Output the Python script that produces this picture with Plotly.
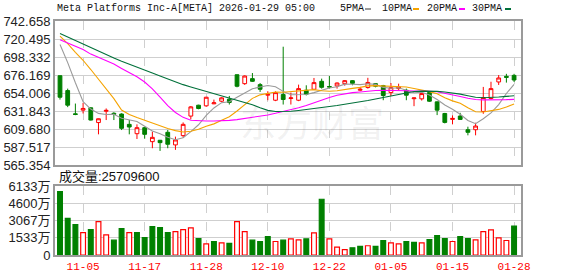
import plotly.graph_objects as go

# ---------------- data ----------------
dates = ["10-31", "11-03", "11-04", "11-05", "11-06", "11-07", "11-10", "11-11", "11-12", "11-13",
         "11-14", "11-17", "11-18", "11-19", "11-20", "11-21", "11-24", "11-25", "11-26", "11-28",
         "12-01", "12-02", "12-03", "12-04", "12-05", "12-08", "12-09", "12-10", "12-11", "12-12",
         "12-15", "12-16", "12-17", "12-18", "12-19", "12-22", "12-23", "12-24", "12-26", "12-29",
         "12-30", "12-31", "01-02", "01-05", "01-06", "01-07", "01-08", "01-09", "01-12", "01-13",
         "01-14", "01-15", "01-16", "01-20", "01-21", "01-22", "01-23", "01-26", "01-27", "01-28"]

open_ = [675.3, 657.0, 628.4, 632.9, 635.8, 617.6, 631.5, 629.0, 628.1, 615.4,
         603.9, 611.3, 594.1, 595.8, 605.6, 590.1, 601.5, 625.6, 639.0, 638.2,
         640.7, 643.9, 646.4, 676.5, 665.5, 671.7, 664.3, 651.3, 645.1, 652.1,
         647.2, 645.1, 657.4, 658.6, 668.4, 662.0, 662.7, 665.5, 669.2, 657.4,
         660.7, 665.5, 663.1, 654.5, 659.4, 657.4, 647.0, 646.8, 654.5, 643.1,
         628.8, 621.5, 625.6, 608.8, 608.8, 631.3, 647.2, 667.6, 674.5, 675.7]
high = [675.5, 659.4, 641.0, 641.9, 636.2, 622.6, 635.0, 630.4, 629.0, 620.7,
        615.4, 612.5, 606.4, 596.2, 608.5, 600.3, 617.8, 638.0, 639.5, 649.2,
        645.9, 648.8, 650.4, 676.7, 675.7, 678.6, 666.3, 656.2, 656.0, 711.0,
        654.5, 664.3, 663.5, 672.5, 671.7, 674.9, 667.0, 670.0, 670.0, 661.5,
        672.7, 666.2, 664.0, 666.3, 665.5, 659.4, 648.3, 654.5, 655.0, 643.5,
        629.5, 626.4, 629.6, 612.5, 617.4, 661.5, 667.9, 676.1, 677.6, 677.6]
low = [645.9, 636.6, 626.7, 628.8, 620.2, 603.1, 620.7, 620.7, 608.4, 603.1,
       597.4, 597.7, 586.0, 582.7, 586.0, 584.0, 599.0, 621.5, 634.0, 637.0,
       640.2, 642.7, 639.8, 661.0, 664.0, 667.6, 655.3, 645.1, 644.0, 639.8,
       639.8, 644.0, 651.0, 658.0, 659.4, 659.4, 659.4, 663.0, 663.5, 656.2,
       659.4, 661.0, 645.1, 650.4, 657.4, 645.1, 637.8, 644.7, 643.0, 626.8,
       616.6, 615.4, 621.0, 601.9, 601.9, 628.4, 646.0, 663.9, 666.8, 667.6]
close = [648.8, 639.0, 627.6, 635.0, 620.7, 622.3, 632.6, 627.8, 610.5, 612.1,
         611.3, 603.1, 599.4, 592.9, 590.9, 596.2, 615.4, 636.9, 634.9, 648.8,
         641.9, 648.0, 642.3, 662.3, 674.9, 668.4, 658.6, 652.5, 654.5, 646.0,
         648.0, 659.4, 652.5, 666.8, 661.0, 661.4, 666.3, 669.2, 665.9, 658.6,
         667.0, 662.3, 650.9, 660.6, 661.5, 651.3, 647.9, 653.3, 643.9, 632.9,
         617.8, 622.7, 621.5, 605.6, 613.3, 648.4, 659.4, 672.5, 673.3, 670.0]
prev_close_first = 666.5

# volume in 万 shares
volume = [5629, 3254, 2697, 1994, 2258, 2961, 1789, 1319, 2346, 1994,
          1994, 1554, 2522, 2434, 1994, 2082, 2258, 2404, 1466, 997,
          1202, 1085, 1026, 2961, 2082, 1319, 1202, 1642, 1202, 1319,
          1437, 1349, 1437, 1964, 4955, 1437, 704, 469, 645, 762,
          821, 762, 1290, 1085, 997, 1202, 1114, 1085, 1378, 1730,
          1466, 1202, 1642, 1466, 1349, 2082, 2228, 1525, 1290, 2571]

ma5 = [713.7, 691.4, 666.6, 643.4, 634.2, 628.9, 627.6, 627.7, 622.8, 621.1,
       618.9, 613.0, 607.3, 603.8, 599.5, 596.5, 599.0, 606.5, 614.9, 626.4,
       635.6, 642.1, 643.2, 648.7, 653.9, 659.2, 661.3, 663.3, 661.8, 656.0,
       651.9, 652.1, 652.1, 654.5, 657.5, 660.2, 661.6, 664.9, 664.8, 664.3,
       665.4, 664.6, 660.9, 659.9, 660.5, 657.3, 654.4, 654.9, 651.6, 645.9,
       639.2, 634.1, 627.8, 620.1, 616.2, 622.3, 629.6, 639.8, 653.4, 664.7]
ma10 = [724.0, 714.7, 704.1, 694.3, 682.9, 671.3, 659.5, 647.1, 633.1, 627.6,
        623.9, 620.3, 617.5, 613.3, 610.3, 607.7, 606.0, 606.9, 609.3, 613.0,
        616.0, 620.5, 624.8, 631.8, 640.2, 647.4, 651.7, 653.3, 655.2, 654.9,
        655.6, 656.7, 657.7, 658.2, 656.8, 656.1, 656.8, 658.5, 659.7, 660.9,
        662.8, 663.1, 662.9, 662.3, 662.4, 661.4, 659.5, 657.9, 655.7, 653.2,
        648.2, 644.3, 641.3, 635.8, 631.0, 630.7, 631.9, 633.8, 636.7, 640.5]
ma20 = [719.6, 715.6, 711.7, 707.6, 701.9, 697.8, 693.6, 689.6, 684.2, 679.2,
        673.9, 667.5, 659.0, 649.0, 638.5, 630.0, 624.0, 620.5, 619.8, 619.6,
        619.6, 619.8, 620.3, 621.2, 622.5, 624.0, 625.5, 627.0, 629.0, 631.0,
        633.0, 635.8, 638.6, 642.0, 645.3, 648.5, 651.2, 653.0, 654.5, 655.3,
        656.4, 657.0, 657.4, 657.5, 657.2, 656.8, 656.5, 656.5, 656.2, 655.5,
        653.8, 651.8, 649.8, 647.5, 646.0, 645.6, 645.4, 645.5, 645.8, 646.2]
ma30 = [727.4, 723.0, 718.5, 714.0, 709.5, 705.2, 701.0, 697.0, 693.0, 689.2,
        685.6, 682.0, 678.5, 675.0, 671.2, 667.6, 664.3, 661.4, 658.7, 656.3,
        653.7, 651.0, 648.0, 645.5, 642.8, 639.5, 635.8, 632.6, 631.3, 631.0,
        631.5, 632.5, 633.5, 634.7, 636.0, 637.3, 638.6, 640.0, 641.6, 643.1,
        644.8, 646.7, 648.5, 650.6, 652.8, 654.7, 655.8, 656.3, 656.4, 656.0,
        655.3, 654.2, 652.6, 650.6, 648.8, 648.2, 648.3, 649.0, 649.8, 650.6]

price_ticks = [565.354, 587.517, 609.680, 631.843, 654.006, 676.169, 698.332, 720.495, 742.658]
price_tick_labels = ["565.354", "587.517", "609.680", "631.843", "654.006",
                     "676.169", "698.332", "720.495", "742.658"]
vol_ticks = [0, 1533, 3067, 4600, 6133]
vol_tick_labels = ["0", "1533万", "3067万", "4600万", "6133万"]
xtick_dates = ["11-05", "11-17", "11-28", "12-10", "12-22", "01-05", "01-15", "01-28"]

title_text = "Meta Platforms Inc-A[META] 2026-01-29 05:00"
vol_title = "成交量:25709600"
ma_names = ["5PMA", "10PMA", "20PMA", "30PMA"]
ma_colors = ["#9a9a9a", "#f5a300", "#ff00ff", "#00703a"]

# ---------------- layout helpers ----------------
W, H = 578, 276
L, R, T, B = 55, 521, 21, 255
plot_h = B - T


def px_x(px):
    return (px - L) / (R - L)


def px_y(py):
    return (B - py) / plot_h


main_dom = [px_y(165), 1.0]
vol_dom = [0.0, px_y(186)]

x = list(range(len(dates)))
RED = "#ff0000"
GREEN = "#008000"

fig = go.Figure()

# candlesticks
fig.add_trace(go.Candlestick(
    x=x, open=open_, high=high, low=low, close=close,
    increasing=dict(line=dict(color=RED, width=1), fillcolor="#ffffff"),
    decreasing=dict(line=dict(color=GREEN, width=1), fillcolor=GREEN),
    whiskerwidth=0, xaxis="x", yaxis="y", showlegend=False, hoverinfo="skip"))

# moving averages
for name, vals, col in zip(ma_names, [ma5, ma10, ma20, ma30], ma_colors):
    fig.add_trace(go.Scatter(x=x, y=vals, mode="lines", name=name,
                             line=dict(color=col, width=1.1),
                             xaxis="x", yaxis="y", showlegend=False, hoverinfo="skip"))

# volume bars (colour by change vs previous close)
prev = [prev_close_first] + close[:-1]
up = [c >= p for c, p in zip(close, prev)]
fig.add_trace(go.Bar(
    x=x, y=volume, width=0.62,
    marker=dict(color=["#ffffff" if u else GREEN for u in up],
                line=dict(color=[RED if u else GREEN for u in up], width=1.2)),
    xaxis="x2", yaxis="y2", showlegend=False, hoverinfo="skip"))

tickvals = [dates.index(d) for d in xtick_dates]
grid = "#cfcfcf"
border = "#9a9a9a"
xr = [-0.65, len(dates) - 0.1]

axis_common = dict(showline=True, linecolor=border, linewidth=2, mirror=True,
                   zeroline=False, ticks="", automargin=False)

fig.update_layout(
    width=W, height=H,
    margin=dict(l=L, r=W - R, t=T, b=H - B, pad=0, autoexpand=False),
    paper_bgcolor="white", plot_bgcolor="white",
    xaxis=dict(domain=[0, 1], anchor="y", range=xr, tickvals=tickvals,
               showticklabels=False, showgrid=True, gridcolor=grid, griddash="dash",
               gridwidth=1, rangeslider=dict(visible=False), **axis_common),
    yaxis=dict(domain=main_dom, anchor="x", range=[565.354, 742.658],
               tickvals=price_ticks, ticktext=price_tick_labels,
               showgrid=True, gridcolor=grid, gridwidth=1,
               tickfont=dict(family="Liberation Sans, Arial", size=13, color="#222222"),
               **axis_common),
    xaxis2=dict(domain=[0, 1], anchor="y2", range=xr, matches="x",
                tickvals=tickvals, ticktext=xtick_dates,
                showgrid=True, gridcolor=grid, griddash="dash", gridwidth=1,
                tickfont=dict(family="Liberation Mono, monospace", size=11, color=RED),
                **axis_common),
    yaxis2=dict(domain=vol_dom, anchor="x2", range=[0, 6133],
                tickvals=vol_ticks, ticktext=vol_tick_labels,
                showgrid=True, gridcolor=grid, gridwidth=1,
                tickfont=dict(family="Liberation Sans, Noto Sans CJK SC", size=13, color="#222222"),
                **axis_common),
    font=dict(family="Liberation Sans, Noto Sans CJK SC"),
)

annotations = []
shapes = []
# watermark
annotations.append(dict(text="东方财富", x=px_x(312), y=px_y(93), xref="paper", yref="paper",
                        showarrow=False, font=dict(family="Noto Sans CJK SC", size=36,
                                                   color="rgba(120,120,120,0.10)")))
# title
annotations.append(dict(text=title_text, x=px_x(55), y=px_y(9), xref="paper", yref="paper",
                        xanchor="left", yanchor="middle", showarrow=False,
                        font=dict(family="Liberation Mono, monospace", size=10, color="#111111")))
# legend
leg_x = [338, 380, 425, 470]
dash_x = [365, 413, 459, 505]
for name, col, lx, dx in zip(ma_names, ma_colors, leg_x, dash_x):
    annotations.append(dict(text=name, x=px_x(lx), y=px_y(9), xref="paper", yref="paper",
                            xanchor="left", yanchor="middle", showarrow=False,
                            font=dict(family="Liberation Mono, monospace", size=10, color="#111111")))
    shapes.append(dict(type="rect", xref="paper", yref="paper",
                       x0=px_x(dx), x1=px_x(dx + 6), y0=px_y(10), y1=px_y(8),
                       fillcolor=col, line=dict(width=0)))
# volume title
annotations.append(dict(text=vol_title, x=px_x(57), y=px_y(176), xref="paper", yref="paper",
                        xanchor="left", yanchor="middle", showarrow=False,
                        font=dict(family="Liberation Sans, Noto Sans CJK SC", size=13, color="#111111")))

fig.update_layout(annotations=annotations, shapes=shapes)

fig.write_html("out.html")
